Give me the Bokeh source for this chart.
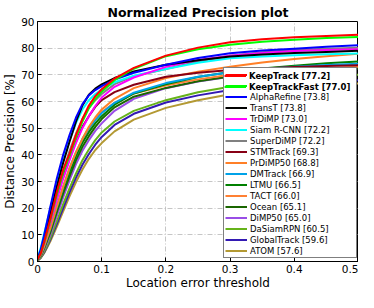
from bokeh.plotting import figure
from bokeh.models import Range1d, FixedTicker, Legend, LegendItem
from bokeh.embed import file_html
from bokeh.resources import INLINE

# ---- data -------------------------------------------------------------
thresholds = [0, .005, .01, .015, .02, .03, .04, .05, .06, .07, .08, .09,
              .1, .12, .15, .2, .25, .3, .35, .4, .45, .5]

trackers = ["KeepTrack", "KeepTrackFast", "AlphaRefine", "TransT", "TrDiMP",
            "Siam R-CNN", "SuperDiMP", "STMTrack", "PrDiMP50", "DMTrack",
            "LTMU", "TACT", "Ocean", "DiMP50", "DaSiamRPN", "GlobalTrack", "ATOM"]
scores = [77.2, 77.0, 73.8, 73.8, 73.0, 72.2, 72.2, 69.3, 68.8, 66.9,
          66.5, 66.0, 65.1, 65.0, 60.5, 59.6, 57.6]
colors = ["#FF0000", "#00FF00", "#0000FF", "#000000", "#FF00FF", "#00FFFF",
          "#808080", "#880015", "#FF7F27", "#00A2E8", "#008000", "#FF8033",
          "#1A6600", "#994DE6", "#66B31A", "#331AB3", "#B39933"]

keeptrack     = [0.8, 3.0, 7.0, 11.5, 16.0, 26.0, 34.5, 40.5, 47.5, 53.5, 58.5, 62.0, 64.6, 68.6, 72.6, 77.2, 80.2, 82.2, 83.3, 84.1, 84.6, 85.0]
keeptrackfast = [0.8, 3.0, 6.8, 11.0, 15.5, 25.0, 33.5, 39.8, 46.5, 52.5, 57.5, 61.0, 63.7, 68.0, 72.3, 77.0, 79.6, 81.3, 82.4, 83.2, 83.8, 84.2]
alpharefine   = [1.0, 4.5, 9.5, 15.0, 20.5, 31.0, 40.0, 47.5, 54.0, 59.0, 62.3, 64.3, 65.8, 68.2, 70.8, 73.8, 76.3, 78.1, 79.1, 79.8, 80.5, 81.1]
transt        = [0.8, 3.5, 8.0, 13.0, 18.0, 28.0, 37.0, 45.0, 52.5, 58.5, 62.5, 64.8, 66.4, 68.8, 71.3, 73.8, 75.5, 76.9, 77.6, 78.2, 78.6, 79.0]
trdimp        = [0.8, 3.0, 6.5, 10.5, 14.5, 23.0, 31.0, 38.0, 44.5, 50.0, 54.5, 58.3, 61.5, 65.5, 69.0, 73.0, 75.6, 77.2, 78.2, 78.9, 79.3, 79.6]
siamrcnn      = [1.2, 5.0, 10.0, 15.0, 20.0, 29.5, 38.0, 45.5, 52.0, 57.0, 60.5, 62.8, 64.5, 67.2, 69.7, 72.2, 74.5, 76.2, 76.9, 77.3, 77.7, 78.0]
superdimp     = [0.8, 3.0, 7.0, 11.5, 16.0, 25.5, 34.0, 41.5, 48.0, 53.5, 57.5, 60.5, 62.8, 66.5, 69.5, 72.2, 75.0, 77.2, 78.5, 79.3, 79.8, 80.2]
stmtrack      = [0.8, 3.0, 7.0, 11.0, 15.0, 24.0, 32.0, 39.0, 45.0, 50.5, 54.5, 58.0, 60.5, 63.5, 66.3, 69.3, 70.8, 71.8, 72.4, 72.9, 73.3, 73.6]
prdimp50      = [0.6, 2.5, 5.5, 9.0, 12.5, 20.5, 28.0, 35.0, 41.0, 46.0, 50.5, 54.0, 57.0, 61.0, 65.0, 68.8, 71.2, 73.0, 74.6, 75.9, 77.0, 77.9]
dmtrack       = [0.6, 2.5, 5.5, 9.0, 12.5, 20.5, 28.0, 35.0, 41.0, 46.0, 50.0, 53.0, 55.7, 59.5, 63.3, 66.9, 69.3, 71.0, 72.2, 73.0, 73.7, 74.2]
ltmu          = [0.5, 2.2, 5.0, 8.3, 11.7, 19.5, 27.0, 33.5, 39.5, 44.5, 48.5, 51.8, 54.5, 58.8, 63.0, 66.5, 69.2, 71.1, 72.4, 73.4, 74.3, 75.0]
tact          = [0.5, 2.2, 5.2, 8.6, 12.0, 20.0, 27.5, 34.5, 40.5, 45.5, 49.5, 53.0, 56.0, 59.5, 63.0, 66.0, 68.3, 70.0, 71.0, 71.8, 72.5, 73.0]
ocean         = [0.5, 2.0, 4.7, 7.8, 11.0, 18.5, 25.5, 32.0, 38.0, 43.0, 47.0, 50.5, 53.4, 57.8, 61.8, 65.1, 67.6, 69.4, 70.6, 71.5, 72.1, 72.5]
dimp50        = [0.4, 1.8, 4.2, 7.0, 10.0, 17.0, 24.0, 30.5, 36.5, 41.5, 45.5, 49.0, 51.8, 56.5, 61.0, 65.0, 67.5, 69.3, 70.5, 71.4, 72.0, 72.5]
dasiamrpn     = [0.4, 1.5, 3.5, 6.0, 8.8, 15.0, 21.5, 27.5, 33.0, 38.0, 42.0, 45.5, 48.4, 52.5, 56.5, 60.5, 63.5, 65.5, 67.0, 68.3, 69.2, 70.0]
globaltrack   = [0.3, 1.4, 3.2, 5.6, 8.2, 14.0, 20.0, 26.0, 31.5, 36.3, 40.3, 43.8, 46.7, 51.2, 55.4, 59.6, 62.3, 64.3, 65.6, 66.6, 67.4, 68.0]
atom          = [0.3, 1.3, 3.0, 5.2, 7.6, 13.0, 18.8, 24.5, 29.8, 34.5, 38.5, 41.8, 44.4, 48.8, 53.2, 57.6, 60.5, 62.7, 64.1, 65.2, 66.1, 66.8]

curves = [keeptrack, keeptrackfast, alpharefine, transt, trdimp, siamrcnn,
          superdimp, stmtrack, prdimp50, dmtrack, ltmu, tact, ocean, dimp50,
          dasiamrpn, globaltrack, atom]

x_ticks = [0, 0.1, 0.2, 0.3, 0.4, 0.5]
x_tick_labels = ["0", "0.1", "0.2", "0.3", "0.4", "0.5"]
y_ticks = [0, 10, 20, 30, 40, 50, 60, 70, 80, 90]
y_tick_labels = ["0", "10", "20", "30", "40", "50", "60", "70", "80", "90"]

title_text = "Normalized Precision plot"
x_label = "Location error threshold"
y_label = "Distance Precision [%]"

FONT = "DejaVu Sans"

# ---- figure -----------------------------------------------------------
p = figure(width=358, height=292, x_range=Range1d(0, 0.5), y_range=Range1d(0, 90),
           output_backend="svg", toolbar_location=None,
           min_border_left=31, min_border_right=0, min_border_top=13,
           min_border_bottom=0, title=title_text)
p.background_fill_color = "white"
p.border_fill_color = "white"
p.outline_line_color = "black"
p.outline_line_width = 1
p.outline_line_alpha = 1

p.title.align = "center"
p.title.text_font = FONT
p.title.text_font_style = "bold"
p.title.text_font_size = "12.5px"
p.title.text_color = "black"
p.title.standoff = 4
p.title.offset = 0

for ax, ticks, labels in ((p.xaxis[0], x_ticks, x_tick_labels),
                          (p.yaxis[0], y_ticks, y_tick_labels)):
    ax.ticker = FixedTicker(ticks=ticks)
    ax.major_label_overrides = {t: l for t, l in zip(ticks, labels)}
    ax.major_tick_in = 4
    ax.major_tick_out = 0
    ax.minor_tick_in = 0
    ax.minor_tick_out = 0
    ax.major_tick_line_color = "black"
    ax.axis_line_color = "black"
    ax.major_label_text_font = FONT
    ax.major_label_text_font_size = "10.5px"
    ax.major_label_text_color = "black"
    ax.axis_label_text_font = FONT
    ax.axis_label_text_font_size = "12px"
    ax.axis_label_text_font_style = "normal"
    ax.axis_label_text_color = "black"

p.xaxis[0].axis_label = x_label
p.yaxis[0].axis_label = y_label
p.xaxis[0].major_label_standoff = 3
p.xaxis[0].axis_label_standoff = 0
p.yaxis[0].major_label_standoff = 3
p.yaxis[0].axis_label_standoff = 1

for g, ticks in ((p.xgrid[0], x_ticks), (p.ygrid[0], y_ticks)):
    g.ticker = FixedTicker(ticks=ticks)
    g.grid_line_color = "#b8b8b8"
    g.grid_line_width = 0.8
    g.grid_line_dash = "5 2 1 2"

# draw lowest score first so best trackers are on top
renderers = [None] * len(trackers)
for i in reversed(range(len(trackers))):
    renderers[i] = p.line(thresholds, curves[i], line_color=colors[i], line_width=2)

common = dict(glyph_width=22, glyph_height=11, label_height=11, label_standoff=3,
              label_width=105, padding=1, spacing=0, margin=0,
              label_text_font=FONT, label_text_font_size="8.5px",
              label_text_color="black")

items_a = []
for i, name in enumerate(trackers):
    lab = " " if i < 2 else f"{name} [{scores[i]:.1f}]"
    items_a.append(LegendItem(label=lab, renderers=[renderers[i]]))
legend_a = Legend(items=items_a, location=(186, 3), border_line_color="black",
                  border_line_width=1, background_fill_color="white",
                  background_fill_alpha=1, **common)
p.add_layout(legend_a)

items_b = [LegendItem(label=f"{trackers[i]} [{scores[i]:.1f}]", renderers=[renderers[i]])
           for i in range(2)]
legend_b = Legend(items=items_b, location=(186, 168), border_line_alpha=0,
                  background_fill_alpha=0, label_text_font_style="bold", **common)
p.add_layout(legend_b)

open("out.html", "w").write(file_html(p, INLINE))
